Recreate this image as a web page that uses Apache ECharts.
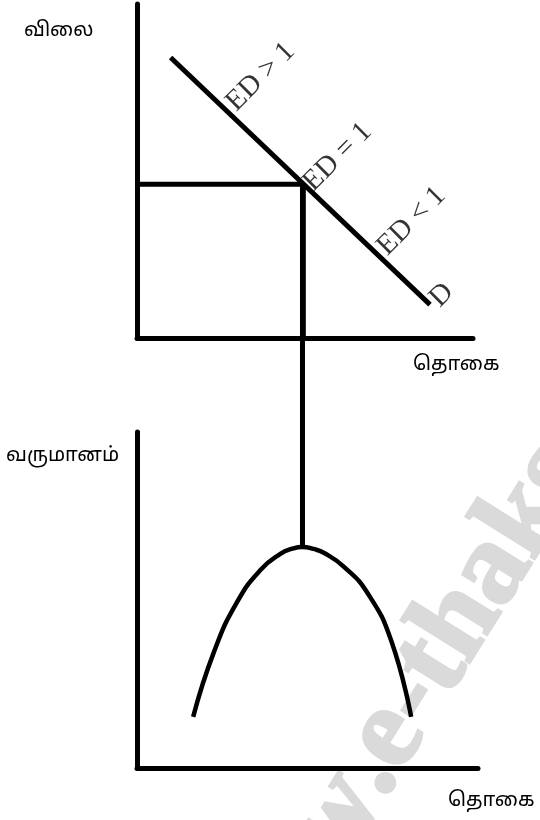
<!DOCTYPE html>
<html>
<head>
<meta charset="utf-8">
<script src="https://cdn.jsdelivr.net/npm/echarts@6/dist/echarts.min.js"></script>
<style>
  html, body { margin: 0; padding: 0; background: #fff; }
  #chart { width: 540px; height: 820px; }
</style>
</head>
<body>
<div id="chart"></div>
<script>
(function () {
    // top panel: demand curve (quantity, price)
    var demandQ = [1.0, 8.72];
    var demandP = [8.4, 1.0];
    var qStar = 4.95;
    var pStar = 4.6;

    // elasticity labels along the demand line
    var edLabels = ['ED > 1', 'ED = 1', 'ED < 1', 'D'];
    var edQ = [3.68, 5.97, 8.17, 9.07];
    var edP = [7.82, 5.42, 3.5, 1.28];

    // bottom panel: total revenue curve (quantity, revenue)
    var revQ = [1.68, 2.3, 3.0, 3.7, 4.3, 4.62, 4.95, 5.28, 5.6, 6.2, 6.9, 7.6, 8.2];
    var revR = [1.52, 3.45, 4.95, 5.9, 6.38, 6.52, 6.58, 6.52, 6.4, 5.98, 5.2, 3.8, 1.52];
    var linkTop = 17.4; // connector runs up to the price level in the top panel

    var titles = ['விலை', 'தொகை', 'வருமானம்', 'தொகை'];

    var tamilFont = "'Noto Sans Tamil', 'Lohit Tamil', 'Latha', 'Noto Sans', sans-serif";
    var serifFont = "'Liberation Serif', 'DejaVu Serif', serif";

    function pairs(xs, ys) {
        return xs.map(function (x, i) { return [x, ys[i]]; });
    }

    function axis(i, max) {
        return {
            type: 'value', gridIndex: i, min: 0, max: max,
            axisLine: { show: true, onZero: false, lineStyle: { color: '#000', width: 5 } },
            axisTick: { show: false },
            axisLabel: { show: false },
            splitLine: { show: false }
        };
    }

    var line = { color: '#000', width: 5 };
    var wmAngle = 58 * Math.PI / 180;
    var wmFont = 'bold 116px "Liberation Serif", serif';

    var myChart = echarts.init(document.getElementById('chart'), null, { renderer: 'canvas' });
    myChart.setOption({
        animation: false,
        backgroundColor: '#fff',
        grid: [
            { left: 137, top: 4, width: 336, height: 334 },
            { left: 137, top: 432, width: 341, height: 336 }
        ],
        xAxis: [axis(0, 10), axis(1, 10.2)],
        yAxis: [axis(0, 10), axis(1, 10)],
        series: [
            {
                type: 'line', xAxisIndex: 0, yAxisIndex: 0,
                data: pairs(demandQ, demandP),
                symbol: 'none', lineStyle: line
            },
            {
                type: 'line', xAxisIndex: 0, yAxisIndex: 0,
                data: [[0, pStar], [qStar, pStar], [qStar, 0]],
                symbol: 'none', lineStyle: line
            },
            {
                type: 'scatter', xAxisIndex: 0, yAxisIndex: 0,
                data: pairs(edQ, edP).map(function (d, i) {
                    return { value: d, name: edLabels[i] };
                }),
                symbolSize: 0,
                label: {
                    show: true, position: 'inside', rotate: 45,
                    formatter: '{b}', color: '#000',
                    fontFamily: serifFont, fontSize: 29
                }
            },
            {
                type: 'line', xAxisIndex: 1, yAxisIndex: 1,
                data: pairs(revQ, revR),
                smooth: 0.5, symbol: 'none', lineStyle: { color: '#000', width: 4.5 }
            },
            {
                type: 'line', xAxisIndex: 1, yAxisIndex: 1,
                data: [[qStar, 6.58], [qStar, linkTop]],
                clip: false, symbol: 'none', lineStyle: line
            }
        ],
        graphic: [
            {
                type: 'text', x: 408, y: 814, rotation: wmAngle, z: -10,
                style: { text: 'www', align: 'right', verticalAlign: 'bottom',
                         font: wmFont, fill: '#dadada', stroke: '#dadada', lineWidth: 3 }
            },
            {
                type: 'text', x: 408, y: 814, rotation: wmAngle, z: -10,
                style: { text: '.e-thaksalawa.moe.gov.lk', align: 'left', verticalAlign: 'bottom',
                         font: wmFont, fill: '#dadada', stroke: '#dadada', lineWidth: 3 }
            },
            { type: 'text', left: 24, top: 22, style: { text: titles[0], fontSize: 20, fontFamily: tamilFont, fill: '#000' } },
            { type: 'text', left: 413, top: 356, style: { text: titles[1], fontSize: 20, fontFamily: tamilFont, fill: '#000' } },
            { type: 'text', left: 6, top: 447, style: { text: titles[2], fontSize: 20, fontFamily: tamilFont, fill: '#000' } },
            { type: 'text', left: 448, top: 792, style: { text: titles[3], fontSize: 20, fontFamily: tamilFont, fill: '#000' } }
        ]
    });
})();
</script>
</body>
</html>
